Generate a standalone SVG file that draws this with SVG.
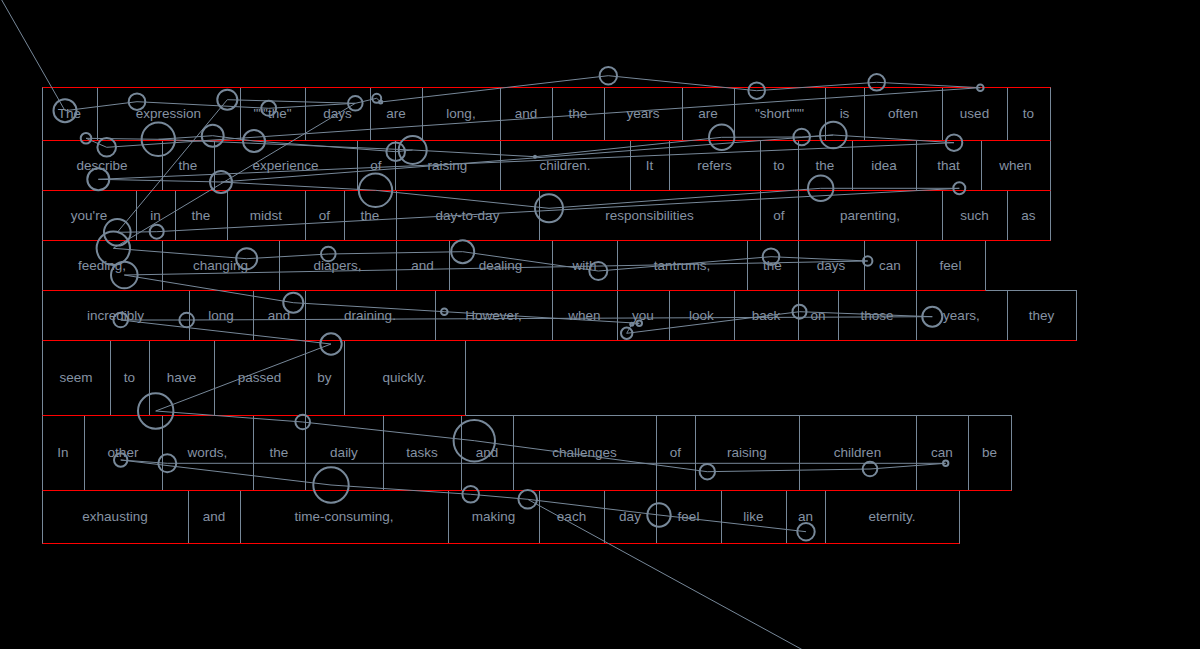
<svg xmlns="http://www.w3.org/2000/svg" width="1200" height="649" viewBox="0 0 1200 649">
<style>
.w rect{fill:none;stroke:#778899;stroke-width:1}
.w text{font-family:"Liberation Sans",Arial,sans-serif;font-size:13.5px;fill:#8592a3;text-anchor:middle}
.red line{stroke:#ff0000;stroke-width:1}
.fx circle{fill:none;stroke:#778899;stroke-width:2}
#connectors path{fill:none;stroke:#778899;stroke-width:1;stroke-linejoin:round}
</style>
<rect x="0" y="0" width="1200" height="649" fill="#000"/>
<g class="w" id="words">
<g id="r1w1"><rect x="42.5" y="87.5" width="55" height="53"/><text x="69.5" y="118.3">The</text></g>
<g id="r1w2"><rect x="97.5" y="87.5" width="143" height="53"/><text x="168.5" y="118.3">expression</text></g>
<g id="r1w3"><rect x="240.5" y="87.5" width="65" height="53"/><text x="272.5" y="118.3">"""the"</text></g>
<g id="r1w4"><rect x="305.5" y="87.5" width="65" height="53"/><text x="337.5" y="118.3">days</text></g>
<g id="r1w5"><rect x="370.5" y="87.5" width="52" height="53"/><text x="396" y="118.3">are</text></g>
<g id="r1w6"><rect x="422.5" y="87.5" width="78" height="53"/><text x="461" y="118.3">long,</text></g>
<g id="r1w7"><rect x="500.5" y="87.5" width="52" height="53"/><text x="526" y="118.3">and</text></g>
<g id="r1w8"><rect x="552.5" y="87.5" width="52" height="53"/><text x="578" y="118.3">the</text></g>
<g id="r1w9"><rect x="604.5" y="87.5" width="78" height="53"/><text x="643" y="118.3">years</text></g>
<g id="r1w10"><rect x="682.5" y="87.5" width="52" height="53"/><text x="708" y="118.3">are</text></g>
<g id="r1w11"><rect x="734.5" y="87.5" width="91" height="53"/><text x="779.5" y="118.3">"short"""</text></g>
<g id="r1w12"><rect x="825.5" y="87.5" width="39" height="53"/><text x="844.5" y="118.3">is</text></g>
<g id="r1w13"><rect x="864.5" y="87.5" width="78" height="53"/><text x="903" y="118.3">often</text></g>
<g id="r1w14"><rect x="942.5" y="87.5" width="65" height="53"/><text x="974.5" y="118.3">used</text></g>
<g id="r1w15"><rect x="1007.5" y="87.5" width="43" height="53"/><text x="1028.5" y="118.3">to</text></g>

<g id="r2w1"><rect x="42.5" y="140.5" width="120" height="50"/><text x="102" y="169.8">describe</text></g>
<g id="r2w2"><rect x="162.5" y="140.5" width="52" height="50"/><text x="188" y="169.8">the</text></g>
<g id="r2w3"><rect x="214.5" y="140.5" width="143" height="50"/><text x="285.5" y="169.8">experience</text></g>
<g id="r2w4"><rect x="357.5" y="140.5" width="38" height="50"/><text x="376" y="169.8">of</text></g>
<g id="r2w5"><rect x="395.5" y="140.5" width="105" height="50"/><text x="447.5" y="169.8">raising</text></g>
<g id="r2w6"><rect x="500.5" y="140.5" width="130" height="50"/><text x="565" y="169.8">children.</text></g>
<g id="r2w7"><rect x="630.5" y="140.5" width="39" height="50"/><text x="649.5" y="169.8">It</text></g>
<g id="r2w8"><rect x="669.5" y="140.5" width="91" height="50"/><text x="714.5" y="169.8">refers</text></g>
<g id="r2w9"><rect x="760.5" y="140.5" width="38" height="50"/><text x="779" y="169.8">to</text></g>
<g id="r2w10"><rect x="798.5" y="140.5" width="54" height="50"/><text x="825" y="169.8">the</text></g>
<g id="r2w11"><rect x="852.5" y="140.5" width="64" height="50"/><text x="884" y="169.8">idea</text></g>
<g id="r2w12"><rect x="916.5" y="140.5" width="65" height="50"/><text x="948.5" y="169.8">that</text></g>
<g id="r2w13"><rect x="981.5" y="140.5" width="69" height="50"/><text x="1015.5" y="169.8">when</text></g>

<g id="r3w1"><rect x="42.5" y="190.5" width="94" height="50"/><text x="89" y="219.8">you're</text></g>
<g id="r3w2"><rect x="136.5" y="190.5" width="39" height="50"/><text x="155.5" y="219.8">in</text></g>
<g id="r3w3"><rect x="175.5" y="190.5" width="52" height="50"/><text x="201" y="219.8">the</text></g>
<g id="r3w4"><rect x="227.5" y="190.5" width="78" height="50"/><text x="266" y="219.8">midst</text></g>
<g id="r3w5"><rect x="305.5" y="190.5" width="39" height="50"/><text x="324.5" y="219.8">of</text></g>
<g id="r3w6"><rect x="344.5" y="190.5" width="52" height="50"/><text x="370" y="219.8">the</text></g>
<g id="r3w7"><rect x="396.5" y="190.5" width="143" height="50"/><text x="467.5" y="219.8">day-to-day</text></g>
<g id="r3w8"><rect x="539.5" y="190.5" width="221" height="50"/><text x="649.5" y="219.8">responsibilities</text></g>
<g id="r3w9"><rect x="760.5" y="190.5" width="38" height="50"/><text x="779" y="219.8">of</text></g>
<g id="r3w10"><rect x="798.5" y="190.5" width="144" height="50"/><text x="870" y="219.8">parenting,</text></g>
<g id="r3w11"><rect x="942.5" y="190.5" width="65" height="50"/><text x="974.5" y="219.8">such</text></g>
<g id="r3w12"><rect x="1007.5" y="190.5" width="43" height="50"/><text x="1028.5" y="219.8">as</text></g>

<g id="r4w1"><rect x="42.5" y="240.5" width="120" height="50"/><text x="102" y="269.8">feeding,</text></g>
<g id="r4w2"><rect x="162.5" y="240.5" width="117" height="50"/><text x="220.5" y="269.8">changing</text></g>
<g id="r4w3"><rect x="279.5" y="240.5" width="117" height="50"/><text x="337.5" y="269.8">diapers,</text></g>
<g id="r4w4"><rect x="396.5" y="240.5" width="53" height="50"/><text x="422.5" y="269.8">and</text></g>
<g id="r4w5"><rect x="449.5" y="240.5" width="103" height="50"/><text x="500.5" y="269.8">dealing</text></g>
<g id="r4w6"><rect x="552.5" y="240.5" width="65" height="50"/><text x="584.5" y="269.8">with</text></g>
<g id="r4w7"><rect x="617.5" y="240.5" width="130" height="50"/><text x="682" y="269.8">tantrums,</text></g>
<g id="r4w8"><rect x="747.5" y="240.5" width="51" height="50"/><text x="772.5" y="269.8">the</text></g>
<g id="r4w9"><rect x="798.5" y="240.5" width="66" height="50"/><text x="831" y="269.8">days</text></g>
<g id="r4w10"><rect x="864.5" y="240.5" width="52" height="50"/><text x="890" y="269.8">can</text></g>
<g id="r4w11"><rect x="916.5" y="240.5" width="69" height="50"/><text x="950.5" y="269.8">feel</text></g>

<g id="r5w1"><rect x="42.5" y="290.5" width="147" height="50"/><text x="115.5" y="319.8">incredibly</text></g>
<g id="r5w2"><rect x="189.5" y="290.5" width="64" height="50"/><text x="221" y="319.8">long</text></g>
<g id="r5w3"><rect x="253.5" y="290.5" width="52" height="50"/><text x="279" y="319.8">and</text></g>
<g id="r5w4"><rect x="305.5" y="290.5" width="130" height="50"/><text x="370" y="319.8">draining.</text></g>
<g id="r5w5"><rect x="435.5" y="290.5" width="117" height="50"/><text x="493.5" y="319.8">However,</text></g>
<g id="r5w6"><rect x="552.5" y="290.5" width="65" height="50"/><text x="584.5" y="319.8">when</text></g>
<g id="r5w7"><rect x="617.5" y="290.5" width="52" height="50"/><text x="643" y="319.8">you</text></g>
<g id="r5w8"><rect x="669.5" y="290.5" width="65" height="50"/><text x="701.5" y="319.8">look</text></g>
<g id="r5w9"><rect x="734.5" y="290.5" width="64" height="50"/><text x="766" y="319.8">back</text></g>
<g id="r5w10"><rect x="798.5" y="290.5" width="40" height="50"/><text x="818" y="319.8">on</text></g>
<g id="r5w11"><rect x="838.5" y="290.5" width="78" height="50"/><text x="877" y="319.8">those</text></g>
<g id="r5w12"><rect x="916.5" y="290.5" width="91" height="50"/><text x="961.5" y="319.8">years,</text></g>
<g id="r5w13"><rect x="1007.5" y="290.5" width="69" height="50"/><text x="1041.5" y="319.8">they</text></g>

<g id="r6w1"><rect x="42.5" y="340.5" width="68" height="75"/><text x="76" y="382.3">seem</text></g>
<g id="r6w2"><rect x="110.5" y="340.5" width="39" height="75"/><text x="129.5" y="382.3">to</text></g>
<g id="r6w3"><rect x="149.5" y="340.5" width="65" height="75"/><text x="181.5" y="382.3">have</text></g>
<g id="r6w4"><rect x="214.5" y="340.5" width="91" height="75"/><text x="259.5" y="382.3">passed</text></g>
<g id="r6w5"><rect x="305.5" y="340.5" width="39" height="75"/><text x="324.5" y="382.3">by</text></g>
<g id="r6w6"><rect x="344.5" y="340.5" width="121" height="75"/><text x="404.5" y="382.3">quickly.</text></g>

<g id="r7w1"><rect x="42.5" y="415.5" width="42" height="75"/><text x="63" y="457.3">In</text></g>
<g id="r7w2"><rect x="84.5" y="415.5" width="78" height="75"/><text x="123" y="457.3">other</text></g>
<g id="r7w3"><rect x="162.5" y="415.5" width="91" height="75"/><text x="207.5" y="457.3">words,</text></g>
<g id="r7w4"><rect x="253.5" y="415.5" width="52" height="75"/><text x="279" y="457.3">the</text></g>
<g id="r7w5"><rect x="305.5" y="415.5" width="78" height="75"/><text x="344" y="457.3">daily</text></g>
<g id="r7w6"><rect x="383.5" y="415.5" width="78" height="75"/><text x="422" y="457.3">tasks</text></g>
<g id="r7w7"><rect x="461.5" y="415.5" width="52" height="75"/><text x="487" y="457.3">and</text></g>
<g id="r7w8"><rect x="513.5" y="415.5" width="143" height="75"/><text x="584.5" y="457.3">challenges</text></g>
<g id="r7w9"><rect x="656.5" y="415.5" width="39" height="75"/><text x="675.5" y="457.3">of</text></g>
<g id="r7w10"><rect x="695.5" y="415.5" width="104" height="75"/><text x="747" y="457.3">raising</text></g>
<g id="r7w11"><rect x="799.5" y="415.5" width="117" height="75"/><text x="857.5" y="457.3">children</text></g>
<g id="r7w12"><rect x="916.5" y="415.5" width="52" height="75"/><text x="942" y="457.3">can</text></g>
<g id="r7w13"><rect x="968.5" y="415.5" width="43" height="75"/><text x="989.5" y="457.3">be</text></g>

<g id="r8w1"><rect x="42.5" y="490.5" width="146" height="53"/><text x="115" y="521.3">exhausting</text></g>
<g id="r8w2"><rect x="188.5" y="490.5" width="52" height="53"/><text x="214" y="521.3">and</text></g>
<g id="r8w3"><rect x="240.5" y="490.5" width="208" height="53"/><text x="344" y="521.3">time-consuming,</text></g>
<g id="r8w4"><rect x="448.5" y="490.5" width="91" height="53"/><text x="493.5" y="521.3">making</text></g>
<g id="r8w5"><rect x="539.5" y="490.5" width="65" height="53"/><text x="571.5" y="521.3">each</text></g>
<g id="r8w6"><rect x="604.5" y="490.5" width="52" height="53"/><text x="630" y="521.3">day</text></g>
<g id="r8w7"><rect x="656.5" y="490.5" width="65" height="53"/><text x="688.5" y="521.3">feel</text></g>
<g id="r8w8"><rect x="721.5" y="490.5" width="65" height="53"/><text x="753.5" y="521.3">like</text></g>
<g id="r8w9"><rect x="786.5" y="490.5" width="39" height="53"/><text x="805.5" y="521.3">an</text></g>
<g id="r8w10"><rect x="825.5" y="490.5" width="134" height="53"/><text x="892" y="521.3">eternity.</text></g>
</g>
<g class="red" id="line-bounds">
<line x1="42.5" y1="87.5" x2="1050.5" y2="87.5"/>
<line x1="42.5" y1="140.5" x2="1050.5" y2="140.5"/>
<line x1="42.5" y1="190.5" x2="1050.5" y2="190.5"/>
<line x1="42.5" y1="240.5" x2="1050.5" y2="240.5"/>
<line x1="42.5" y1="290.5" x2="985.5" y2="290.5"/>
<line x1="42.5" y1="340.5" x2="1076.5" y2="340.5"/>
<line x1="42.5" y1="415.5" x2="465.5" y2="415.5"/>
<line x1="42.5" y1="490.5" x2="1011.5" y2="490.5"/>
<line x1="42.5" y1="543.5" x2="959.5" y2="543.5"/>
</g>
<g id="connectors">
<path d="M0,-3 L65,110.7 L137,101.7 L268.7,108.3 L355.3,103.3 L376.7,98.3 L380.7,102 L608.3,75.7 L756.7,90.7 L876.7,82.3 L980.3,87.7 L106.7,147.3 L86,138.3 L158.3,139.3 L212.7,135.7 L254,141 L395.7,151.7 L412.7,150 L535,156.7 L721.7,137.3 L801.7,137 L833.3,135 L954,142.7 L98.3,179.3 L221,182 L375.5,190.3 L549,208.3 L820.7,188.3 L959.3,188.3 L156.7,231.7 L117.3,232.3 L227.3,99.7 L355.3,103.3 L113.3,248.3 L246.7,258.7 L328.3,254 L462.7,251.7 L598.3,271 L771,256.7 L867.7,261 L124.3,275 L293.3,302.7 L444.3,311.7 L639.3,323.3 L631.7,324.3 L626.7,333.3 L799.5,311.7 L932.3,316.7 L186.7,320 L120.7,320 L331,344 L155.7,411 L302.7,422 L474.3,440.7 L707.3,471.7 L870,469 L945.7,463.3 L167.3,463.3 L120.7,460 L331,485 L470.7,494.3 L527.7,499.3 L659,515 L806,531.7"/>
<path d="M527.7,499.3 L812,655"/>
<path d="M221,182 L833.3,135"/>
<path d="M158.3,139.3 L412.7,150"/>
</g>
<g class="fx" id="fixations">
<g id="fA"><circle cx="65" cy="110.7" r="11.5"/></g>
<g id="fB"><circle cx="137" cy="101.7" r="8.3"/></g>
<g id="fC"><circle cx="227.3" cy="99.7" r="10"/></g>
<g id="fD"><circle cx="268.7" cy="108.3" r="7.5"/></g>
<g id="fE"><circle cx="355.3" cy="103.3" r="7.3"/></g>
<g id="fF"><circle cx="376.7" cy="98.3" r="4.5"/></g>
<g id="fF2"><circle cx="380.7" cy="102" r="1.5"/></g>
<g id="fG"><circle cx="608.3" cy="75.7" r="8.7"/></g>
<g id="fH"><circle cx="756.7" cy="90.7" r="8.3"/></g>
<g id="fI"><circle cx="876.7" cy="82.3" r="8.3"/></g>
<g id="fJ"><circle cx="980.3" cy="87.7" r="3.3"/></g>
<g id="fK"><circle cx="86" cy="138.3" r="5.3"/></g>
<g id="fL"><circle cx="106.7" cy="147.3" r="9.3"/></g>
<g id="fM"><circle cx="158.3" cy="139.3" r="16.7"/></g>
<g id="fN"><circle cx="212.7" cy="135.7" r="11"/></g>
<g id="fO"><circle cx="254" cy="141" r="11"/></g>
<g id="fP"><circle cx="395.7" cy="151.7" r="9.3"/></g>
<g id="fQ"><circle cx="412.7" cy="150" r="14"/></g>
<g id="fR"><circle cx="535" cy="156.7" r="1"/></g>
<g id="fS"><circle cx="721.7" cy="137.3" r="12.7"/></g>
<g id="fT"><circle cx="801.7" cy="137" r="8.3"/></g>
<g id="fU"><circle cx="833.3" cy="135" r="13.3"/></g>
<g id="fV"><circle cx="954" cy="142.7" r="8.3"/></g>
<g id="fW"><circle cx="98.3" cy="179.3" r="11"/></g>
<g id="fX"><circle cx="221" cy="182" r="11"/></g>
<g id="fY"><circle cx="375.5" cy="190.3" r="16.7"/></g>
<g id="fZ"><circle cx="549" cy="208.3" r="14"/></g>
<g id="fAA"><circle cx="820.7" cy="188.3" r="12.7"/></g>
<g id="fAB"><circle cx="959.3" cy="188.3" r="6"/></g>
<g id="fAC"><circle cx="117.3" cy="232.3" r="13.3"/></g>
<g id="fAD"><circle cx="156.7" cy="231.7" r="7"/></g>
<g id="fAE"><circle cx="113.3" cy="248.3" r="16.7"/></g>
<g id="fAF"><circle cx="124.3" cy="275" r="13.3"/></g>
<g id="fAG"><circle cx="246.7" cy="258.7" r="10.5"/></g>
<g id="fAH"><circle cx="328.3" cy="254" r="7.3"/></g>
<g id="fAI"><circle cx="462.7" cy="251.7" r="11.5"/></g>
<g id="fAJ"><circle cx="598.3" cy="271" r="9"/></g>
<g id="fAK"><circle cx="771" cy="256.7" r="8.3"/></g>
<g id="fAL"><circle cx="867.7" cy="261" r="4.7"/></g>
<g id="fAM"><circle cx="120.7" cy="320" r="7.3"/></g>
<g id="fAN"><circle cx="186.7" cy="320" r="7.3"/></g>
<g id="fAO"><circle cx="293.3" cy="302.7" r="10"/></g>
<g id="fAP"><circle cx="444.3" cy="311.7" r="3.3"/></g>
<g id="fAQ"><circle cx="639.3" cy="323.3" r="2.7"/></g>
<g id="fAQ2"><circle cx="631.7" cy="324.3" r="1.5"/></g>
<g id="fAR"><circle cx="626.7" cy="333.3" r="5.7"/></g>
<g id="fAS"><circle cx="799.5" cy="311.7" r="7"/></g>
<g id="fAT"><circle cx="932.3" cy="316.7" r="10"/></g>
<g id="fAU"><circle cx="331" cy="344" r="10.7"/></g>
<g id="fAV"><circle cx="155.7" cy="411" r="17.7"/></g>
<g id="fAW"><circle cx="302.7" cy="422" r="7.3"/></g>
<g id="fAX"><circle cx="474.3" cy="440.7" r="20.7"/></g>
<g id="fAY"><circle cx="120.7" cy="460" r="6.7"/></g>
<g id="fAZ"><circle cx="167.3" cy="463.3" r="9"/></g>
<g id="fBA"><circle cx="707.3" cy="471.7" r="7.7"/></g>
<g id="fBB"><circle cx="870" cy="469" r="7.3"/></g>
<g id="fBC"><circle cx="945.7" cy="463.3" r="2.7"/></g>
<g id="fBD"><circle cx="331" cy="485" r="17.7"/></g>
<g id="fBE"><circle cx="470.7" cy="494.3" r="8.3"/></g>
<g id="fBF"><circle cx="527.7" cy="499.3" r="9.3"/></g>
<g id="fBG"><circle cx="659" cy="515" r="11.7"/></g>
<g id="fBH"><circle cx="806" cy="531.7" r="8.7"/></g>
</g>
</svg>
